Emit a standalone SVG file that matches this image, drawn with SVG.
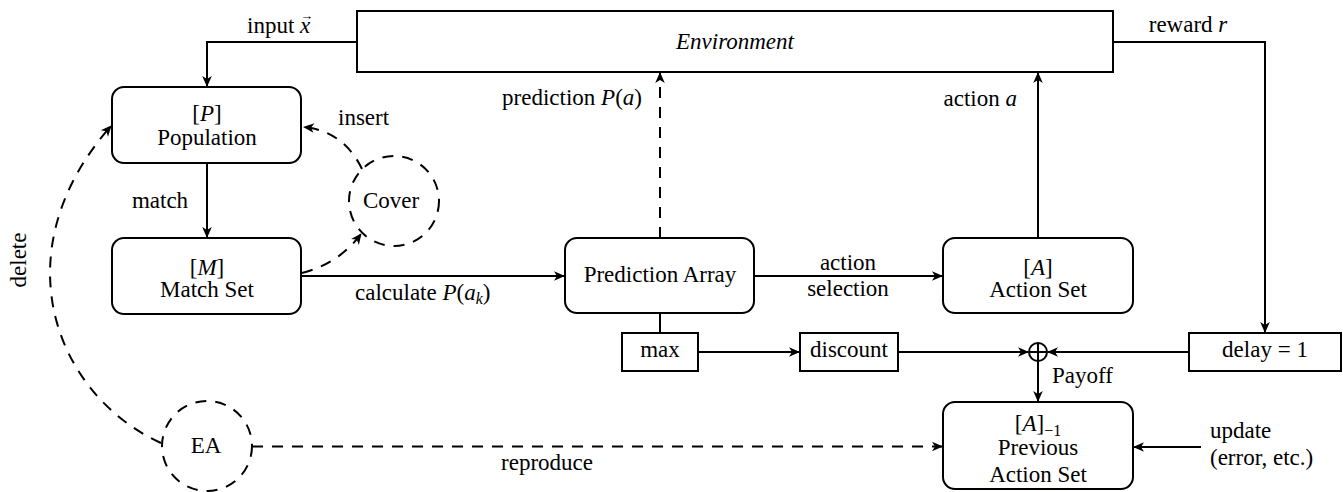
<svg xmlns="http://www.w3.org/2000/svg" width="1343" height="492" viewBox="0 0 1343 492">
<style>
text{font-family:'Liberation Serif',serif;font-size:23px;fill:#000}
.m{text-anchor:middle}
.s{text-anchor:start}
.e{text-anchor:end}
.i{font-style:italic}
.box{fill:#fff;stroke:#000;stroke-width:2}
.ln{fill:none;stroke:#000;stroke-width:2}
.da{fill:none;stroke:#000;stroke-width:2;stroke-dasharray:11 9}
</style>
<defs>
<marker id="ar" viewBox="-12 -6 13 12" refX="0" refY="0" markerWidth="13" markerHeight="12" markerUnits="userSpaceOnUse" orient="auto">
<path d="M1,0 L-10,-4.8 L-7,0 L-10,4.8 Z" fill="#000"/>
</marker>
</defs>

<g id="connectors">
<path class="ln" d="M357,42 H207 V86" marker-end="url(#ar)"/>
<path class="ln" d="M1113,42 H1265 V332" marker-end="url(#ar)"/>
<path class="ln" d="M207,163 V237" marker-end="url(#ar)"/>
<path class="ln" d="M301,276 H564" marker-end="url(#ar)"/>
<path class="ln" d="M754,276 H942" marker-end="url(#ar)"/>
<path class="da" d="M660,238 V73" marker-end="url(#ar)"/>
<path class="ln" d="M1038,238 V73" marker-end="url(#ar)"/>
<path class="ln" d="M660,313 V333"/>
<path class="ln" d="M698,352 H799" marker-end="url(#ar)"/>
<path class="ln" d="M898,352 H1028" marker-end="url(#ar)"/>
<path class="ln" d="M1189,352 H1048" marker-end="url(#ar)"/>
<path class="ln" d="M1038,361 V401" marker-end="url(#ar)"/>
<path class="ln" d="M1201,447 H1134" marker-end="url(#ar)"/>
<path class="da" d="M252,446.5 H942" marker-end="url(#ar)"/>
<path class="da" d="M362,169 C352,148 334,130 304,127" marker-end="url(#ar)"/>
<path class="da" d="M302,273 C326,267 346,254 361,234" marker-end="url(#ar)"/>
<path class="da" d="M161,443 C55,395 0,252 111,126" marker-end="url(#ar)"/>
<text class="s" x="247" y="33">input <tspan class="i">x</tspan><tspan font-size="13" dx="-10" dy="-13">→</tspan></text>
<text class="m" x="1188" y="32">reward <tspan class="i">r</tspan></text>
<text class="e" x="642" y="105">prediction <tspan class="i">P</tspan>(<tspan class="i">a</tspan>)</text>
<text class="e" x="1017" y="106">action <tspan class="i">a</tspan></text>
<text class="s" x="338" y="125">insert</text>
<text class="m" x="160" y="208">match</text>
<text class="m" transform="translate(26,260) rotate(-90)">delete</text>
<text class="s" x="355" y="300">calculate <tspan class="i">P</tspan>(<tspan class="i">a</tspan><tspan class="i" font-size="16" dy="4">k</tspan><tspan dy="-4">)</tspan></text>
<text class="m" x="848" y="270">action</text>
<text class="m" x="848" y="296">selection</text>
<text class="s" x="1052" y="383">Payoff</text>
<text class="s" x="1210" y="438">update</text>
<text class="s" x="1210" y="465">(error, etc.)</text>
<text class="m" x="547" y="470">reproduce</text>
</g>

<g id="environment">
<rect class="box" x="357" y="11" width="756" height="61"/>
<text class="m i" x="735" y="49">Environment</text>
</g>

<g id="population">
<rect class="box" x="112" y="87" width="189" height="76" rx="12"/>
<text class="m" x="207" y="121">[<tspan class="i">P</tspan>]</text>
<text class="m" x="207" y="145">Population</text>
</g>

<g id="cover">
<circle class="da" cx="394" cy="201" r="45"/>
<text class="m" x="391" y="208">Cover</text>
</g>

<g id="matchset">
<rect class="box" x="112" y="238" width="189" height="76" rx="12"/>
<text class="m" x="207" y="275">[<tspan class="i">M</tspan>]</text>
<text class="m" x="207" y="297">Match Set</text>
</g>

<g id="predarray">
<rect class="box" x="565" y="238" width="189" height="75" rx="12"/>
<text class="m" x="660" y="282">Prediction Array</text>
</g>

<g id="actionset">
<rect class="box" x="943" y="238" width="190" height="75" rx="12"/>
<text class="m" x="1038" y="275">[<tspan class="i">A</tspan>]</text>
<text class="m" x="1038" y="297">Action Set</text>
</g>

<g id="max">
<rect class="box" x="622" y="333" width="76" height="38"/>
<text class="m" x="660" y="357">max</text>
</g>

<g id="discount">
<rect class="box" x="800" y="333" width="98" height="38"/>
<text class="m" x="849" y="357">discount</text>
</g>

<g id="plus">
<circle fill="#fff" stroke="#000" stroke-width="2" cx="1038" cy="352" r="9"/>
<path class="ln" d="M1029,352 H1047 M1038,343 V361"/>
</g>

<g id="delay">
<rect class="box" x="1189" y="333" width="152" height="38"/>
<text class="m" x="1265" y="357">delay = 1</text>
</g>

<g id="prevactionset">
<rect class="box" x="943" y="402" width="190" height="87" rx="12"/>
<text class="m" x="1038" y="431">[<tspan class="i">A</tspan>]<tspan font-size="16" dy="5">−1</tspan></text>
<text class="m" x="1038" y="455">Previous</text>
<text class="m" x="1038" y="482">Action Set</text>
</g>

<g id="ea">
<circle class="da" cx="207" cy="446" r="45"/>
<text class="m" x="206" y="453">EA</text>
</g>
</svg>
